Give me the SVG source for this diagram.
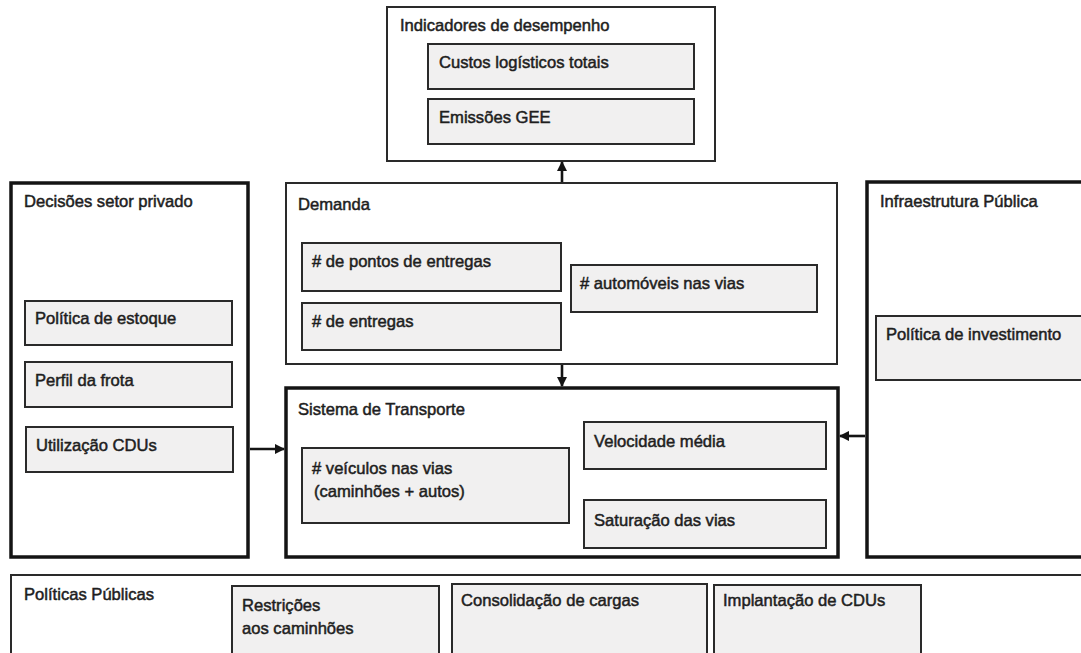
<svg xmlns="http://www.w3.org/2000/svg" width="1081" height="653" viewBox="0 0 1081 653">
<style>
text{font-family:"Liberation Sans",Arial,sans-serif;font-size:16.6px;fill:#1e1e1e;stroke:#1e1e1e;stroke-width:0.5}
.thin{fill:#fff;stroke:#2a2a2a;stroke-width:2}
.thick{fill:#fff;stroke:#141414;stroke-width:3.5}
.item{fill:#f1f0f0;stroke:#2a2a2a;stroke-width:2}
.conn{stroke:#141414;stroke-width:2.6;fill:none;marker-end:url(#ah)}
</style>
<defs>
<marker id="ah" viewBox="0 0 10 10" refX="9" refY="5" markerWidth="4" markerHeight="4" orient="auto" markerUnits="strokeWidth">
<path d="M0,0 L10,5 L0,10 z" fill="#141414"/>
</marker>
</defs>
<rect width="1081" height="653" fill="#fff"/>

<g id="indicadores">
<rect class="thin" x="387" y="7" width="328" height="154"/>
<text x="400" y="31">Indicadores de desempenho</text>
<rect class="item" x="428" y="44" width="266" height="45"/>
<text x="439" y="68">Custos logísticos totais</text>
<rect class="item" x="428" y="99" width="266" height="45"/>
<text x="439" y="123">Emissões GEE</text>
</g>

<g id="decisoes">
<rect class="thick" x="11" y="183" width="237" height="374"/>
<text x="24" y="207">Decisões setor privado</text>
<rect class="item" x="25" y="301" width="207" height="44"/>
<text x="35" y="324">Política de estoque</text>
<rect class="item" x="25" y="362" width="207" height="45"/>
<text x="35" y="386">Perfil da frota</text>
<rect class="item" x="26" y="427" width="207" height="45"/>
<text x="36" y="451">Utilização CDUs</text>
</g>

<g id="demanda">
<rect class="thin" x="286" y="183" width="551" height="181"/>
<text x="298" y="210">Demanda</text>
<rect class="item" x="302" y="243" width="259" height="48"/>
<text x="312" y="267"># de pontos de entregas</text>
<rect class="item" x="302" y="303" width="259" height="47"/>
<text x="312" y="327"># de entregas</text>
<rect class="item" x="571" y="265" width="246" height="47"/>
<text x="580" y="289"># automóveis nas vias</text>
</g>

<g id="sistema">
<rect class="thick" x="286" y="388" width="552" height="169"/>
<text x="298" y="415">Sistema de Transporte</text>
<rect class="item" x="302" y="448" width="267" height="75"/>
<text x="312" y="474"># veículos nas vias</text>
<text x="314" y="497">(caminhões + autos)</text>
<rect class="item" x="584" y="422" width="242" height="47"/>
<text x="594" y="447">Velocidade média</text>
<rect class="item" x="584" y="500" width="242" height="48"/>
<text x="594" y="526">Saturação das vias</text>
</g>

<g id="infraestrutura">
<rect class="thick" x="867" y="182" width="220" height="375"/>
<text x="880" y="207">Infraestrutura Pública</text>
<rect class="item" x="876" y="316" width="210" height="64"/>
<text x="886" y="340">Política de investimento</text>
</g>

<g id="politicas">
<rect class="thin" x="11" y="575" width="1080" height="90"/>
<text x="24" y="600">Políticas Públicas</text>
<rect class="item" x="232" y="586" width="207" height="75"/>
<text x="242" y="611">Restrições</text>
<text x="242" y="634">aos caminhões</text>
<rect class="item" x="452" y="584" width="255" height="77"/>
<text x="461" y="606">Consolidação de cargas</text>
<rect class="item" x="714" y="585" width="207" height="76"/>
<text x="723" y="606">Implantação de CDUs</text>
</g>

<g id="connectors">
<line class="conn" x1="562" y1="182" x2="562" y2="162"/>
<line class="conn" x1="562" y1="365" x2="562" y2="386"/>
<line class="conn" x1="250" y1="449" x2="284" y2="449"/>
<line class="conn" x1="865" y1="436" x2="840" y2="436"/>
</g>
</svg>
